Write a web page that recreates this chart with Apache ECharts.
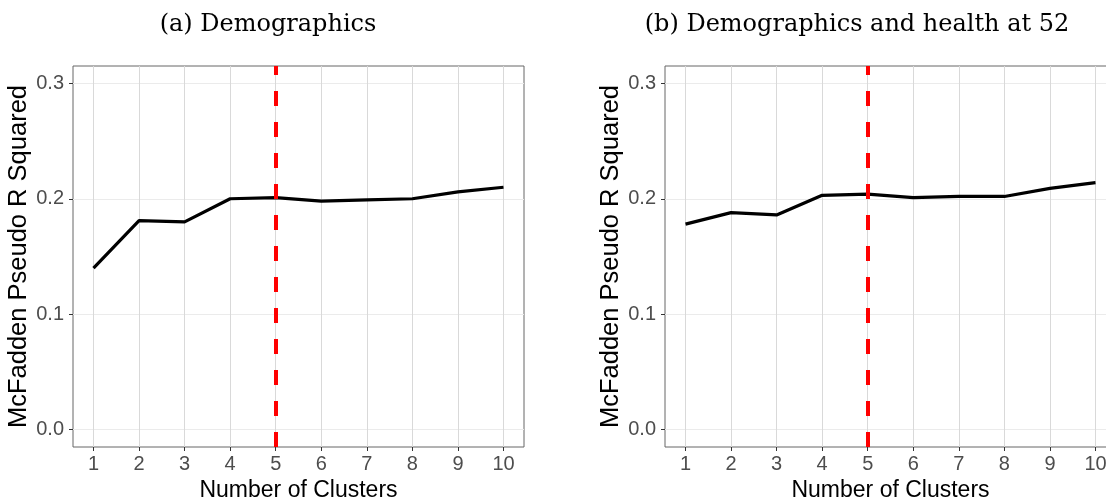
<!DOCTYPE html>
<html>
<head>
<meta charset="utf-8">
<script src="https://cdn.jsdelivr.net/npm/echarts@6/dist/echarts.min.js"></script>
<style>
html,body{margin:0;padding:0;background:#fff;}
#chart{width:1106px;height:502px;}
</style>
</head>
<body>
<div id="chart"></div>
<script>
const clusters = [1, 2, 3, 4, 5, 6, 7, 8, 9, 10];
const demoR2 = [0.140, 0.181, 0.180, 0.200, 0.201, 0.198, 0.199, 0.200, 0.206, 0.210];
const healthR2 = [0.178, 0.188, 0.186, 0.203, 0.204, 0.201, 0.202, 0.202, 0.209, 0.214];
const xTicks = [1, 2, 3, 4, 5, 6, 7, 8, 9, 10];
const yTicks = [0, 0.1, 0.2, 0.3];
const chosenK = 5;
const titles = ['(a) Demographics', '(b) Demographics and health at 52'];
const xName = 'Number of Clusters';
const yName = 'McFadden Pseudo R Squared';

const chart = echarts.init(document.getElementById('chart'), null, {renderer: 'canvas'});

const grids = [
  {left: 73, top: 66, width: 451, height: 381},
  {left: 665, top: 66, width: 451, height: 381}
];

function xAxisFor(i) {
  return {
    type: 'value', gridIndex: i, min: 0.55, max: 10.45,
    name: xName, nameLocation: 'middle', nameGap: 29,
    nameTextStyle: {fontFamily: 'Liberation Sans', fontSize: 23, color: '#000'},
    axisLine: {show: false, onZero: false},
    axisTick: {show: true, length: 4, customValues: xTicks, lineStyle: {color: '#333', width: 1}},
    axisLabel: {customValues: xTicks, margin: 7, fontFamily: 'Liberation Sans', fontSize: 20, color: '#4d4d4d'},
    splitLine: {show: true, lineStyle: {color: '#d9d9d9', width: 1}}
  };
}
function yAxisFor(i) {
  return {
    type: 'value', gridIndex: i, min: -0.015, max: 0.315,
    name: yName, nameLocation: 'middle', nameGap: 41, nameRotate: 90,
    nameTextStyle: {fontFamily: 'Liberation Sans', fontSize: 25.5, color: '#000'},
    axisLine: {show: false, onZero: false},
    axisTick: {show: true, length: 4, customValues: yTicks, lineStyle: {color: '#333', width: 1}},
    axisLabel: {customValues: yTicks, margin: 9, fontFamily: 'Liberation Sans', fontSize: 20, color: '#4d4d4d',
      formatter: v => v.toFixed(1)},
    splitLine: {show: true, lineStyle: {color: '#ebebeb', width: 1}}
  };
}

function lineSeries(i, vals) {
  return {
    type: 'line', xAxisIndex: i, yAxisIndex: i,
    data: clusters.map((c, k) => [c, vals[k]]),
    symbol: 'none', lineStyle: {color: '#000', width: 3.2}, z: 3,
    markLine: {
      silent: true, symbol: 'none', label: {show: false}, z: 4,
      lineStyle: {color: '#ff0000', width: 4, type: [15, 16]},
      data: [{xAxis: chosenK}]
    }
  };
}

const option = {
  animation: false,
  backgroundColor: '#fff',
  grid: grids.map(g => Object.assign({show: true, borderColor: '#666', borderWidth: 1, backgroundColor: '#fff',
    outerBoundsMode: 'none', containLabel: false}, g)),
  xAxis: [xAxisFor(0), xAxisFor(1)],
  yAxis: [yAxisFor(0), yAxisFor(1)],
  series: [lineSeries(0, demoR2), lineSeries(1, healthR2)],
  graphic: [
    {type: 'text', x: 268, y: 25, style: {text: titles[0], font: '24px "DejaVu Serif"', fill: '#000', align: 'center', verticalAlign: 'middle'}},
    {type: 'text', x: 857, y: 25, style: {text: titles[1], font: '24px "DejaVu Serif"', fill: '#000', align: 'center', verticalAlign: 'middle'}}
  ]
};
chart.setOption(option);
</script>
</body>
</html>
